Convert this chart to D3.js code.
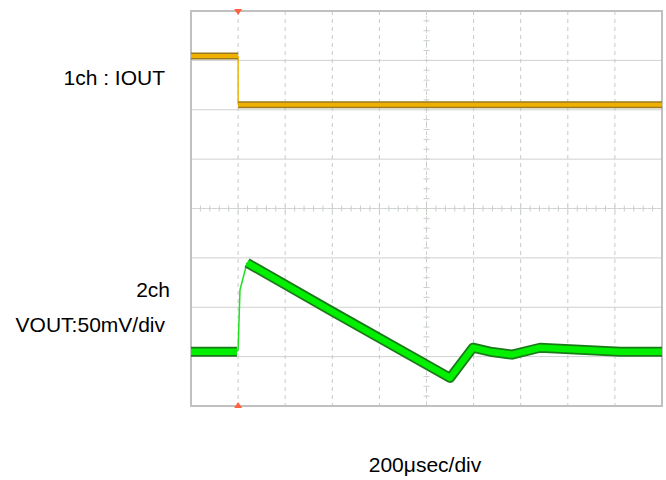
<!DOCTYPE html>
<html>
<head>
<meta charset="utf-8">
<script src="https://cdn.jsdelivr.net/npm/d3@7/dist/d3.min.js"></script>
<style>
html,body{margin:0;padding:0;background:#fff;}
svg{display:block;font-family:"Liberation Sans",Arial,sans-serif;}
</style>
</head>
<body>
<svg id="chart" width="666" height="480"></svg>
<script>
// ---- data ----
const timeDomain = [0, 2000];          // µs, 200 µs/div, 10 divisions
const levelDomain = [0, 8];            // vertical divisions
const xDivs = d3.range(0, 2001, 200);
const yDivs = d3.range(0, 9, 1);
const triggerTime = 200;

const ch1Time  = [0, 200, 200, 2000];
const ch1Level = [7.09, 7.09, 6.10, 6.10];

const ch2Time  = [0, 195, 200, 208, 238, 590, 1100, 1197, 1270, 1363, 1482, 1652, 1822, 2000];
const ch2Level = [1.10, 1.10, 1.14, 2.35, 2.90, 1.94, 0.57, 1.18, 1.10, 1.04, 1.18, 1.14, 1.10, 1.10];

const labels = {
  ch1: "1ch : IOUT",
  ch2a: "2ch",
  ch2b: "VOUT:50mV/div",
  time: "200\u03bcsec/div"
};

// ---- layout ----
const svg = d3.select("#chart");
const L = 191, R = 662, T = 11, B = 406;
const x = d3.scaleLinear().domain(timeDomain).range([L, R]);
const y = d3.scaleLinear().domain(levelDomain).range([B, T]);

const g = svg.append("g");

// horizontal grid (solid)
g.selectAll("line.hg").data(yDivs.slice(1, -1)).join("line")
  .attr("x1", L).attr("x2", R)
  .attr("y1", d => y(d)).attr("y2", d => y(d))
  .attr("stroke", "#d0d0d0").attr("stroke-width", 1);

// vertical grid (dashed)
g.selectAll("line.vg").data(xDivs.slice(1, -1)).join("line")
  .attr("y1", T).attr("y2", B)
  .attr("x1", d => x(d)).attr("x2", d => x(d))
  .attr("stroke", "#c4ccc4").attr("stroke-width", 1)
  .attr("stroke-dasharray", "4,4");

// center axes with minor ticks
const cx = x(1000), cy = y(4);
g.append("line").attr("x1", L).attr("x2", R).attr("y1", cy).attr("y2", cy)
  .attr("stroke", "#d4dcd4").attr("stroke-dasharray", "2,3");
g.append("line").attr("x1", cx).attr("x2", cx).attr("y1", T).attr("y2", B)
  .attr("stroke", "#d4dcd4").attr("stroke-dasharray", "2,3");
const minorX = d3.range(0, 2001, 40);
const minorY = d3.range(0, 8.001, 0.2);
g.selectAll("line.mx").data(minorX).join("line")
  .attr("x1", d => x(d)).attr("x2", d => x(d))
  .attr("y1", cy - 3).attr("y2", cy + 3)
  .attr("stroke", "#c8d0c8");
g.selectAll("line.my").data(minorY).join("line")
  .attr("y1", d => y(d)).attr("y2", d => y(d))
  .attr("x1", cx - 3).attr("x2", cx + 3)
  .attr("stroke", "#c8d0c8");

// frame
g.append("rect").attr("x", L).attr("y", T).attr("width", R - L).attr("height", B - T)
  .attr("fill", "none").attr("stroke", "#c0c0c0").attr("stroke-width", 2);

// traces
const line = d3.line().x(d => x(d[0])).y(d => y(d[1]));
const ch1 = ch1Time.map((t, i) => [t, ch1Level[i]]);
const ch2 = ch2Time.map((t, i) => [t, ch2Level[i]]);

// ch1 vertical edge thin
g.append("path").attr("d", line(ch1.slice(1, 3))).attr("stroke", "#f0b400").attr("stroke-width", 1.5).attr("fill", "none");
[[ch1.slice(0, 2)], [ch1.slice(2)]].forEach(seg => {
  g.append("path").attr("d", line(seg[0])).attr("fill", "none")
    .attr("stroke", "#9a7a20").attr("stroke-width", 7).attr("stroke-linejoin", "round");
  g.append("path").attr("d", line(seg[0])).attr("fill", "none")
    .attr("stroke", "#f0b000").attr("stroke-width", 4).attr("stroke-linejoin", "round");
});

// ch2: rise edge thin, others thick
const ch2a = ch2.slice(0, 2), ch2rise = ch2.slice(1, 5), ch2b = ch2.slice(4);
g.append("path").attr("d", line(ch2rise)).attr("fill", "none")
  .attr("stroke", "#20e020").attr("stroke-width", 1.5);
[ch2a, ch2b].forEach(seg => {
  g.append("path").attr("d", line(seg)).attr("fill", "none")
    .attr("stroke", "#1a7a1a").attr("stroke-width", 10).attr("stroke-linejoin", "round");
  g.append("path").attr("d", line(seg)).attr("fill", "none")
    .attr("stroke", "#00f000").attr("stroke-width", 6.5).attr("stroke-linejoin", "round");
});

// trigger markers
const tx = x(triggerTime);
g.append("path").attr("d", `M${tx-4},${T-2}L${tx+4},${T-2}L${tx},${T+4}Z`).attr("fill", "#ff6040");
g.append("path").attr("d", `M${tx-4},${B+2}L${tx+4},${B+2}L${tx},${B-4}Z`).attr("fill", "#ff6040");

// labels
const fs = 21;
svg.append("text").attr("x", 165).attr("y", 85).attr("text-anchor", "end")
  .attr("font-size", fs).text(labels.ch1);
svg.append("text").attr("x", 170).attr("y", 297).attr("text-anchor", "end")
  .attr("font-size", fs).text(labels.ch2a);
svg.append("text").attr("x", 165).attr("y", 332).attr("text-anchor", "end")
  .attr("font-size", fs).text(labels.ch2b);
svg.append("text").attr("x", 425).attr("y", 472).attr("text-anchor", "middle")
  .attr("font-size", fs).text(labels.time);
</script>
</body>
</html>
